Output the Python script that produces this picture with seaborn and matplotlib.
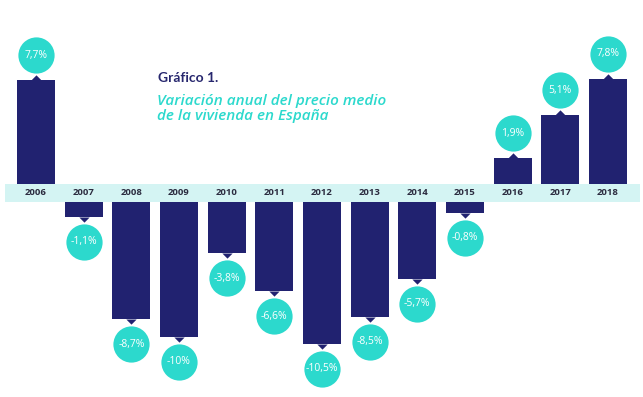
import numpy as np
import pandas as pd
import matplotlib
matplotlib.use("Agg")
import matplotlib.pyplot as plt
import matplotlib.transforms as mtransforms
from matplotlib.patches import Rectangle
from matplotlib.path import Path
import seaborn as sns

# ---- data ----
years = ["2006", "2007", "2008", "2009", "2010", "2011", "2012",
         "2013", "2014", "2015", "2016", "2017", "2018"]
values = [7.7, -1.1, -8.7, -10.0, -3.8, -6.6, -10.5,
          -8.5, -5.7, -0.8, 1.9, 5.1, 7.8]
title = "Gráfico 1."
subtitle = "Variación anual del precio medio\nde la vivienda en España"

# ---- style ----
NAVY = "#212270"
TURQ = "#2cd9cd"
BAND = "#d4f4f3"
YEARC = "#2b2b3f"

sns.set_theme(style="white")
plt.rcParams["font.family"] = ["Lato", "DejaVu Sans"]

W, H = 643, 397
fig = plt.figure(figsize=(W / 100, H / 100), dpi=100)
fig.patch.set_facecolor("white")

PX = 13.5          # pixels per percentage point
band_top, band_bot = 184, 202
ax_left, ax_right = 12.2, 631.8

def fx(px):
    return px / W

def fy(py):
    return 1 - py / H

ax_up = fig.add_axes([fx(ax_left), fy(band_top), fx(ax_right - ax_left), band_top / H])
ax_dn = fig.add_axes([fx(ax_left), 0, fx(ax_right - ax_left), (H - band_bot) / H])

df = pd.DataFrame({"year": years, "value": values})

for ax in (ax_up, ax_dn):
    sns.barplot(data=df, x="year", y="value", ax=ax, color=NAVY,
                saturation=1, width=0.8, linewidth=0, errorbar=None)
    ax.set_xlim(-0.5, len(years) - 0.5)
    ax.set_facecolor("none")
    for s in ax.spines.values():
        s.set_visible(False)
    ax.set_yticks([])
    ax.set_xlabel("")
    ax.set_ylabel("")

ax_up.set_ylim(0, band_top / PX)
ax_dn.set_ylim(-(H - band_bot) / PX, 0)

ax_up.tick_params(axis="x", length=0, pad=3.0)
for lab in ax_up.get_xticklabels():
    lab.set_fontsize(6.8)
    lab.set_fontweight("bold")
    lab.set_color(YEARC)
    lab.set_family(["Open Sans", "DejaVu Sans"])
ax_dn.set_xticks([])

# band
fig.patches.append(Rectangle((fx(5), fy(band_bot)), fx(640 - 5), (band_bot - band_top) / H,
                             transform=fig.transFigure, facecolor=BAND,
                             edgecolor="none", zorder=-1))

# pointer markers
tri_up = Path([(-1, 0), (1, 0), (0, 1), (-1, 0)], [1, 2, 2, 79])
tri_dn = Path([(-1, 0), (1, 0), (0, -1), (-1, 0)], [1, 2, 2, 79])

def fmt(v):
    if float(v).is_integer():
        return f"{int(v)}%"
    return f"{v:.1f}%".replace(".", ",")

OFF = 25  # px from bar end to circle centre
for i, v in enumerate(values):
    ax = ax_up if v > 0 else ax_dn
    sign = 1 if v > 0 else -1
    ax.scatter([i], [v], marker=tri_up if v > 0 else tri_dn, s=55, color=NAVY,
               linewidths=0, clip_on=False, zorder=3)
    tr = mtransforms.offset_copy(ax.transData, fig=fig, x=0, y=sign * OFF, units="dots")
    ax.scatter([i], [v], s=680, color=TURQ, linewidths=0, transform=tr,
               clip_on=False, zorder=4)
    ax.text(i, v, fmt(v), transform=tr, ha="center", va="center",
            fontsize=7.5, color="white", zorder=5,
            family=["Open Sans", "DejaVu Sans"])

# titles
fig.text(fx(158), fy(78), title, ha="left", va="center", fontsize=10,
         fontweight="bold", color="#27276e")
fig.text(fx(157), fy(108.5), subtitle, ha="left", va="center", fontsize=11,
         style="italic", fontweight="semibold", color=TURQ, linespacing=1.1,
         family=["Open Sans", "DejaVu Sans"])

fig.savefig("out.png", dpi=100)
